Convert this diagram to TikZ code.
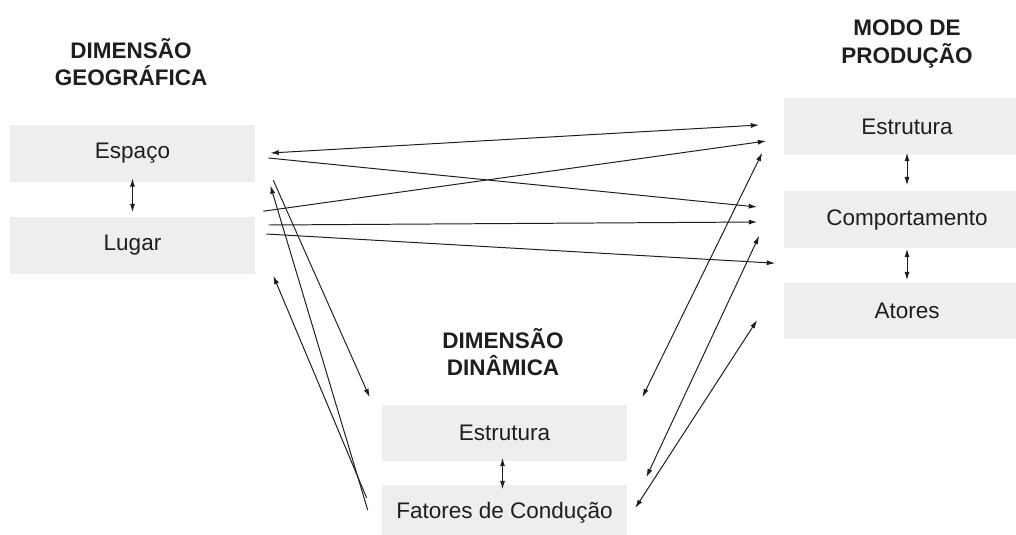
\documentclass[tikz,border=0pt]{standalone}
\usepackage{fontspec}
\setmainfont{Liberation Sans}
\usetikzlibrary{arrows.meta, calc}

\definecolor{boxgray}{RGB}{237,238,240}
\definecolor{ink}{RGB}{30,30,30}

\begin{document}
\begin{tikzpicture}[x=0.025cm, y=-0.025cm, font=\fontsize{16}{19.5}\selectfont, text=ink]
  % Styles for the boxes, the headings and the arrows
  \tikzset{
    box/.style={fill=boxgray, minimum width=6.125cm, minimum height=1.4cm, inner sep=0pt},
    heading/.style={font=\fontsize{16}{19.5}\selectfont\bfseries, align=center},
    link/.style={draw=ink, line width=0.7pt},
    one/.style={-{Latex[length=6pt,width=3.6pt]}},
    both/.style={{Latex[length=6pt,width=3.6pt]}-{Latex[length=6pt,width=3.6pt]}}
  }

  \useasboundingbox (0,0) rectangle (1016,534);
  \clip (0,0) rectangle (1016,534);

  % Headings of the three groups
  \node[heading] (geoHead) at (131,62)  {DIMENSÃO\\GEOGRÁFICA};
  \node[heading] (prodHead) at (907,44) {MODO DE\\PRODUÇÃO};
  \node[heading] (dinHead) at (503,352) {DIMENSÃO\\DINÂMICA};

  % Boxes: name/x/y/text
  \foreach \name/\cx/\cy/\txt in {
    espaco/132.5/153.5/Espaço,
    lugar/132.5/245.5/Lugar,
    estrR/907/126.5/Estrutura,
    comp/907/219.5/Comportamento,
    atores/907/310.5/Atores,
    estrD/504.5/432.5/Estrutura,
    fatores/504.5/512.5/Fatores de Condução}{
    \node[box] (\name) at (\cx,\cy) {\txt};
  }

  % Arrows: from/dx/dy/to/dx/dy/tips
  \foreach \a/\ax/\ay/\b/\bx/\by/\tip in {
    espaco.south/0/-3.5/lugar.north/0/-5/both,
    estrR.south/0/-2/comp.north/0/-6/both,
    comp.south/0/1/atores.north/0/-2/both,
    estrD.south/-2/-3/fatores.north/-2/5/both,
    espaco.east/15/-0.5/estrR.west/-25/-1.5/both,
    espaco.east/13/4.5/comp.west/-27/-12.5/one,
    lugar.north east/8/-6/estrR.west/-18/14.5/one,
    lugar.east/13/-20.5/comp.west/-27/2.5/one,
    lugar.east/11/-11.5/atores.north west/-9/-19/one,
    espaco.south east/18/-1.5/estrD.north west/-12/-7/one,
    fatores.west/-14/-2.5/espaco.south east/15/3.5/one,
    fatores.west/-15/-14.5/lugar.south east/18/2/one,
    estrR.south west/-22/-2/estrD.north east/15/-7/both,
    comp.south west/-25/-12/fatores.north east/19/-7/both,
    atores.west/-27/9.5/fatores.east/8/-4.5/both}{
    \draw[link,\tip] ($(\a)+(\ax,\ay)$) -- ($(\b)+(\bx,\by)$);
  }
\end{tikzpicture}
\end{document}
